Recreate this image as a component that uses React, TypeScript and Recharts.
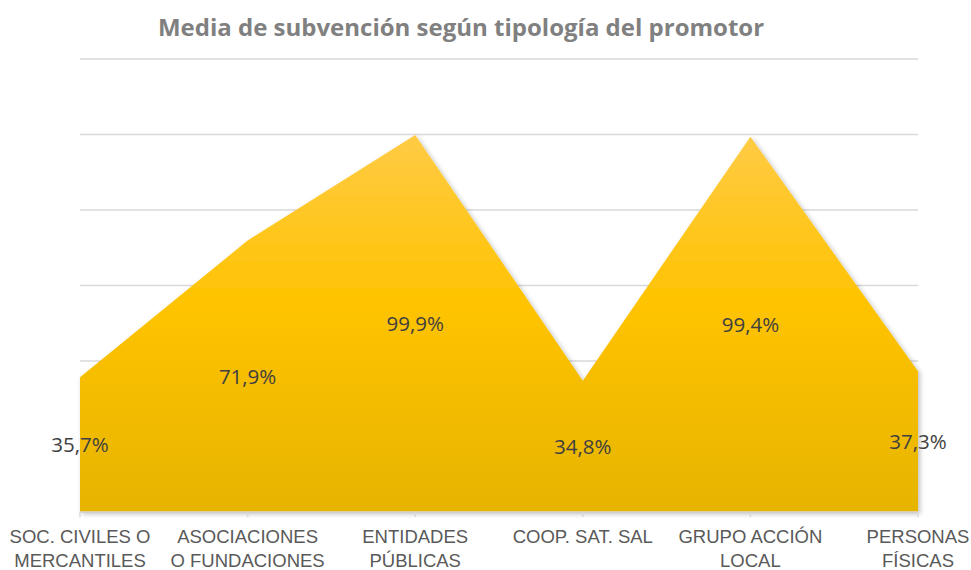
import React from 'react';
import { AreaChart, Area, Line, XAxis, YAxis, CartesianGrid, LabelList } from 'recharts';

const categories = [
  'SOC. CIVILES O|MERCANTILES',
  'ASOCIACIONES|O FUNDACIONES',
  'ENTIDADES|PÚBLICAS',
  'COOP. SAT. SAL',
  'GRUPO ACCIÓN|LOCAL',
  'PERSONAS|FÍSICAS',
];
const subvencion = [35.7, 71.9, 99.9, 34.8, 99.4, 37.3];
const yTicks = [0, 20, 40, 60, 80, 100, 120];

const data = categories.map((name, i) => ({
  name,
  value: subvencion[i],
  mid: subvencion[i] / 2,
}));

const fmt = (v: any) => `${Number(v).toFixed(1).replace('.', ',')}%`;

function CategoryTick(props: any) {
  const { x, y, payload } = props;
  const lines = String(payload.value).split('|');
  return (
    <g transform={`translate(${x},${y})`}>
      {lines.map((l, i) => (
        <text
          key={i}
          x={0}
          y={24 + i * 24}
          textAnchor="middle"
          fill="#595959"
          fontSize={18.5}
          fontFamily="'Liberation Sans', Arial, sans-serif"
        >
          {l}
        </text>
      ))}
    </g>
  );
}

export default function App() {
  return (
    <div style={{ position: 'relative', width: 971, height: 570, background: '#fff' }}>
      <style>{'body{margin:0}'}</style>
      <div
        style={{
          position: 'absolute',
          top: 10,
          left: 0,
          width: 922,
          textAlign: 'center',
          fontFamily: "'Open Sans', sans-serif",
          fontWeight: 700,
          fontSize: 24,
          color: '#808080',
        }}
      >
        Media de subvención según tipología del promotor
      </div>
      <AreaChart
        width={971}
        height={570}
        data={data}
        margin={{ top: 59, right: 53, left: 80, bottom: 28 }}
      >
        <defs>
          <linearGradient id="fillGold" x1="0" y1="0" x2="0" y2="1">
            <stop offset="0%" stopColor="#FFCB45" />
            <stop offset="45%" stopColor="#FFC300" />
            <stop offset="100%" stopColor="#E6B400" />
          </linearGradient>
          <filter id="shadow" x="-5%" y="-5%" width="110%" height="110%">
            <feDropShadow dx="2" dy="2" stdDeviation="2.5" floodColor="#000" floodOpacity="0.25" />
          </filter>
        </defs>
        <CartesianGrid vertical={false} stroke="#d9d9d9" strokeWidth={1.5} />
        <XAxis
          dataKey="name"
          interval={0}
          stroke="#d9d9d9"
          strokeWidth={1.5}
          tickSize={5}
          height={30}
          tick={<CategoryTick />}
        />
        <YAxis hide domain={[0, 120]} ticks={yTicks} />
        <Area
          type="linear"
          dataKey="value"
          stroke="none"
          fill="url(#fillGold)"
          fillOpacity={1}
          filter="url(#shadow)"
          isAnimationActive={false}
          dot={false}
          activeDot={false}
        />
        <Line
          type="linear"
          dataKey="mid"
          stroke="none"
          dot={false}
          activeDot={false}
          isAnimationActive={false}
        >
          <LabelList
            dataKey="value"
            position="center"
            formatter={fmt}
            fill="#404040"
            fontSize={20.5}
            fontFamily="'Open Sans', sans-serif"
          />
        </Line>
      </AreaChart>
    </div>
  );
}
